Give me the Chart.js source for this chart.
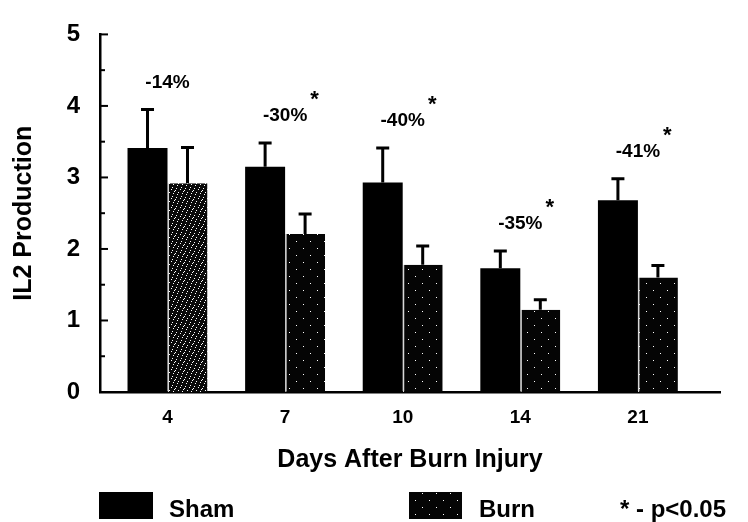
<!DOCTYPE html>
<html>
<head>
<meta charset="utf-8">
<script src="https://cdn.jsdelivr.net/npm/chart.js@4.4.1/dist/chart.umd.min.js"></script>
<style>
  html, body { margin: 0; padding: 0; background: #fff; }
  #wrap { width: 748px; height: 522px; position: relative; }
</style>
</head>
<body>
<div id="wrap"><canvas id="il2Chart"></canvas></div>
<script>
// values
const days = ['4', '7', '10', '14', '21'];
const shamMean = [3.41, 3.15, 2.93, 1.73, 2.68];
const shamErr = [0.54, 0.33, 0.48, 0.24, 0.30];
const burnMean = [2.92, 2.21, 1.78, 1.15, 1.60];
const burnErr = [0.50, 0.28, 0.26, 0.14, 0.17];
const changeLabels = ['-14%', '-30%', '-40%', '-35%', '-41%'];
const significant = [false, true, true, true, true];

const FONT = '"Liberation Sans", Arial, Helvetica, sans-serif';
const canvas = document.getElementById('il2Chart');
const ctx = canvas.getContext('2d');

// stippled fill for the burn bars
function stipple(base, dots, size) {
  const tile = document.createElement('canvas');
  tile.width = size; tile.height = size;
  const g = tile.getContext('2d');
  g.fillStyle = base;
  g.fillRect(0, 0, size, size);
  g.fillStyle = '#fff';
  dots.forEach(([x, y]) => g.fillRect(x, y, 1, 1));
  return ctx.createPattern(tile, 'repeat');
}
const sparse = stipple('#050505', [[2, 3], [9, 10]], 14);
const dense = stipple('#0a0a0a', [[0, 0], [4, 1], [2, 4], [6, 5], [1, 7], [5, 8], [3, 2], [7, 3]], 9);

// inward ticks on the y axis
const yTickPlugin = {
  id: 'yInTicks',
  afterDraw(chart) {
    const y = chart.scales.y;
    const c = chart.ctx;
    c.save();
    c.strokeStyle = '#000';
    c.lineWidth = 2;
    for (let v = 0; v <= 5; v += 0.5) {
      const py = y.getPixelForValue(v);
      c.beginPath();
      c.moveTo(y.right, py);
      c.lineTo(y.right + (v % 1 === 0 ? 8 : 5), py);
      c.stroke();
    }
    c.restore();
  }
};

// one-sided error bars
const errorBarPlugin = {
  id: 'errorBars',
  afterDatasetsDraw(chart) {
    const c = chart.ctx;
    const y = chart.scales.y;
    c.save();
    c.strokeStyle = '#000';
    c.lineWidth = 3;
    chart.data.datasets.forEach((ds, di) => {
      chart.getDatasetMeta(di).data.forEach((bar, i) => {
        const top = y.getPixelForValue(ds.data[i].y + ds.err[i]);
        c.beginPath();
        c.moveTo(bar.x, bar.y);
        c.lineTo(bar.x, top);
        c.moveTo(bar.x - 6.5, top);
        c.lineTo(bar.x + 6.5, top);
        c.stroke();
      });
    });
    c.restore();
  }
};

// percent change labels + legend row
const labelPlugin = {
  id: 'labels',
  afterDraw(chart) {
    const c = chart.ctx;
    const x = chart.scales.x;
    const y = chart.scales.y;
    c.save();
    c.fillStyle = '#000';
    c.textBaseline = 'middle';
    changeLabels.forEach((txt, i) => {
      const px = x.getPixelForValue(i);
      const py = y.getPixelForValue(shamMean[i] + shamErr[i]) - 27;
      c.font = 'bold 19px ' + FONT;
      c.textAlign = 'center';
      c.fillText(txt, px, py);
      if (significant[i]) {
        const w = c.measureText(txt).width;
        c.font = 'bold 22px ' + FONT;
        c.textAlign = 'left';
        c.fillText('*', px + w / 2 + 3, py - 16);
      }
    });

    // legend
    c.textAlign = 'left';
    c.textBaseline = 'alphabetic';
    c.font = 'bold 24px ' + FONT;
    c.fillStyle = '#000';
    c.fillRect(99, 492, 54, 27);
    c.fillText('Sham', 169, 517);
    c.fillStyle = sparse;
    c.fillRect(409, 492, 53, 27);
    c.fillStyle = '#000';
    c.fillText('Burn', 479, 517);
    c.fillText('* - p<0.05', 620, 517);
    c.restore();
  }
};

new Chart(ctx, {
  type: 'bar',
  data: {
    datasets: [
      {
        label: 'Sham',
        data: days.map((d, i) => ({ x: i, y: shamMean[i] })),
        err: shamErr,
        backgroundColor: '#000',
        categoryPercentage: 0.68,
        barPercentage: 1
      },
      {
        label: 'Burn',
        data: days.map((d, i) => ({ x: i, y: burnMean[i] })),
        err: burnErr,
        backgroundColor: [dense, sparse, sparse, sparse, sparse],
        borderColor: '#d8d8d8',
        borderWidth: { left: 1.5, right: 0, top: 0, bottom: 0 },
        borderSkipped: false,
        categoryPercentage: 0.68,
        barPercentage: 1
      }
    ]
  },
  options: {
    responsive: true,
    maintainAspectRatio: false,
    animation: false,
    layout: { padding: { left: 5, right: 28, top: 17, bottom: 47 } },
    plugins: {
      legend: { display: false },
      tooltip: { enabled: false }
    },
    scales: {
      x: {
        type: 'linear',
        min: -0.574,
        max: 4.698,
        offset: false,
        grid: { display: false, drawTicks: false },
        border: { display: true, color: '#000', width: 2.5 },
        afterBuildTicks: s => { s.ticks = days.map((d, i) => ({ value: i })); },
        afterFit: s => { s.height = 83; },
        ticks: {
          callback: v => days[v],
          autoSkip: false,
          maxRotation: 0,
          padding: 14,
          color: '#000',
          font: { family: FONT, size: 19, weight: 'bold' }
        },
        title: {
          display: true,
          text: 'Days After Burn Injury',
          color: '#000',
          padding: { top: 4, bottom: 0 },
          font: { family: FONT, size: 25, weight: 'bold' }
        }
      },
      y: {
        min: 0,
        max: 5,
        grid: { display: false, drawTicks: false },
        border: { display: true, color: '#000', width: 2.5 },
        afterFit: s => { s.width = 95; },
        ticks: {
          stepSize: 1,
          padding: 20,
          color: '#000',
          font: { family: FONT, size: 24, weight: 'bold' }
        },
        title: {
          display: true,
          text: 'IL2 Production',
          color: '#000',
          font: { family: FONT, size: 25, weight: 'bold' }
        }
      }
    }
  },
  plugins: [yTickPlugin, errorBarPlugin, labelPlugin]
});
</script>
</body>
</html>
